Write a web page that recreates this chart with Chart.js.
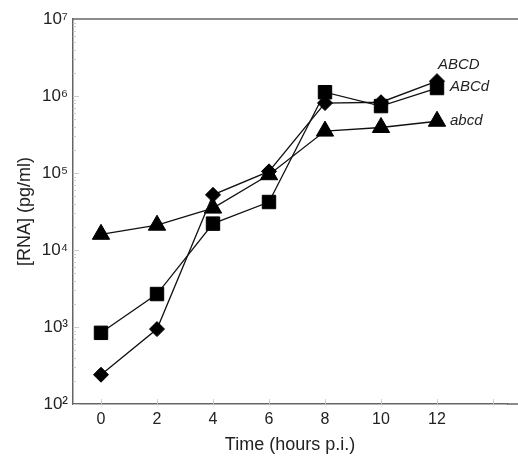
<!DOCTYPE html>
<html>
<head>
<meta charset="utf-8">
<script src="https://cdn.jsdelivr.net/npm/chart.js@4/dist/chart.umd.min.js"></script>
<style>
html,body{margin:0;padding:0;background:#fff;}
#wrap{width:518px;height:456px;position:relative;}
</style>
</head>
<body>
<div id="wrap"><canvas id="c" width="518" height="456"></canvas></div>
<script>
// Data
const timePoints = [0, 2, 4, 6, 8, 10, 12];
const seriesNames = ['ABCD', 'ABCd', 'abcd'];
const ABCD = [240, 940, 52000, 105000, 810000, 830000, 1560000];
const ABCd = [840, 2680, 22000, 42000, 1120000, 740000, 1270000];
const abcd = [16000, 21000, 35000, 95000, 350000, 390000, 470000];
const xTicks = [0, 2, 4, 6, 8, 10, 12, 14];
const xLabelled = [0, 2, 4, 6, 8, 10, 12];
const yTicks = [100, 1000, 10000, 100000, 1000000, 10000000];

const sup = {'0':'⁰','1':'¹','2':'²','3':'³','4':'⁴','5':'⁵','6':'⁶','7':'⁷','8':'⁸','9':'⁹'};
function toPts(arr){ return timePoints.map((t,i)=>({x:t,y:arr[i]})); }

const seriesStyles = [
  {pointStyle:'rectRot', pointRadius:7.5, label: {dx:1, dy:-16}},
  {pointStyle:'rect', pointRadius:9.5, label: {dx:13, dy:-1}},
  {pointStyle:'triangle', pointRadius:10, label: {dx:13, dy:0}}
];
const seriesData = [ABCD, ABCd, abcd];

const datasets = seriesData.map((d,i)=>({
  label: seriesNames[i],
  data: toPts(d),
  borderColor: '#111',
  backgroundColor: '#000',
  borderWidth: 1.3,
  pointStyle: seriesStyles[i].pointStyle,
  pointRadius: seriesStyles[i].pointRadius,
  pointBorderWidth: 1,
  pointBorderColor: '#000',
  pointBackgroundColor: '#000',
  tension: 0
}));

const decor = {
  id: 'decor',
  afterDraw(chart){
    const ctx = chart.ctx, a = chart.chartArea;
    const xs = chart.scales.x, ys = chart.scales.y;
    ctx.save();
    ctx.strokeStyle = '#666';
    ctx.lineWidth = 1.5;
    ctx.beginPath();
    ctx.moveTo(a.left, a.top);
    ctx.lineTo(chart.width, a.top);
    ctx.stroke();
    ctx.beginPath();
    ctx.moveTo(a.right, a.bottom);
    ctx.lineTo(chart.width, a.bottom);
    ctx.stroke();
    ctx.strokeStyle = '#ccc';
    ctx.lineWidth = 1;
    xTicks.forEach(t=>{
      const px = Math.round(xs.getPixelForValue(t))+0.5;
      ctx.beginPath(); ctx.moveTo(px, a.bottom); ctx.lineTo(px, a.bottom-5); ctx.stroke();
    });
    for (let e=2;e<7;e++){
      for (let m=1;m<10;m++){
        const v = m*Math.pow(10,e);
        const py = Math.round(ys.getPixelForValue(v))+0.5;
        ctx.beginPath(); ctx.moveTo(a.left, py); ctx.lineTo(a.left+(m===1?6:3), py); ctx.stroke();
      }
    }
    ctx.fillStyle = '#222';
    ctx.font = 'italic 15px "Liberation Sans", Arial, sans-serif';
    ctx.textAlign = 'left';
    ctx.textBaseline = 'middle';
    chart.data.datasets.forEach((ds,i)=>{
      const meta = chart.getDatasetMeta(i);
      const last = meta.data[meta.data.length-1];
      ctx.fillText(seriesNames[i], last.x + seriesStyles[i].label.dx, last.y + seriesStyles[i].label.dy);
    });
    ctx.restore();
  }
};

new Chart(document.getElementById('c'), {
  type: 'line',
  data: { datasets },
  options: {
    responsive: false,
    animation: false,
    layout: { padding: { left: 0, right: 0, top: 19, bottom: 0 } },
    plugins: { legend: { display: false }, tooltip: { enabled: false } },
    scales: {
      x: {
        type: 'linear',
        min: -1,
        max: 14.5,
        afterBuildTicks(s){ s.ticks = xTicks.map(v=>({value:v})); },
        afterFit(s){ s.height = 52; },
        grid: { display: false, drawTicks: false },
        border: { display: true, color: '#666', width: 1.5 },
        ticks: {
          color: '#222',
          padding: 6,
          font: { family: '"Liberation Sans", Arial, sans-serif', size: 16 },
          maxRotation: 0,
          autoSkip: false,
          callback: v => xLabelled.includes(v) ? String(v) : ''
        },
        title: {
          display: true,
          text: 'Time (hours p.i.)',
          color: '#222',
          padding: { top: 1, bottom: 0 },
          font: { family: '"Liberation Sans", Arial, sans-serif', size: 18 }
        }
      },
      y: {
        type: 'logarithmic',
        min: 100,
        max: 10000000,
        afterBuildTicks(s){ s.ticks = yTicks.map(v=>({value:v})); },
        afterFit(s){ s.width = 73; },
        grid: { display: false, drawTicks: false },
        border: { display: true, color: '#666', width: 1.5 },
        ticks: {
          color: '#222',
          padding: 5,
          font: { family: '"Liberation Sans", Arial, sans-serif', size: 17 },
          autoSkip: false,
          callback: v => '10' + String(Math.round(Math.log10(v))).split('').map(c=>sup[c]).join('')
        },
        title: {
          display: true,
          text: '[RNA] (pg/ml)',
          color: '#222',
          padding: { top: 14, bottom: 0 },
          font: { family: '"Liberation Sans", Arial, sans-serif', size: 18 }
        }
      }
    }
  },
  plugins: [decor]
});
</script>
</body>
</html>
